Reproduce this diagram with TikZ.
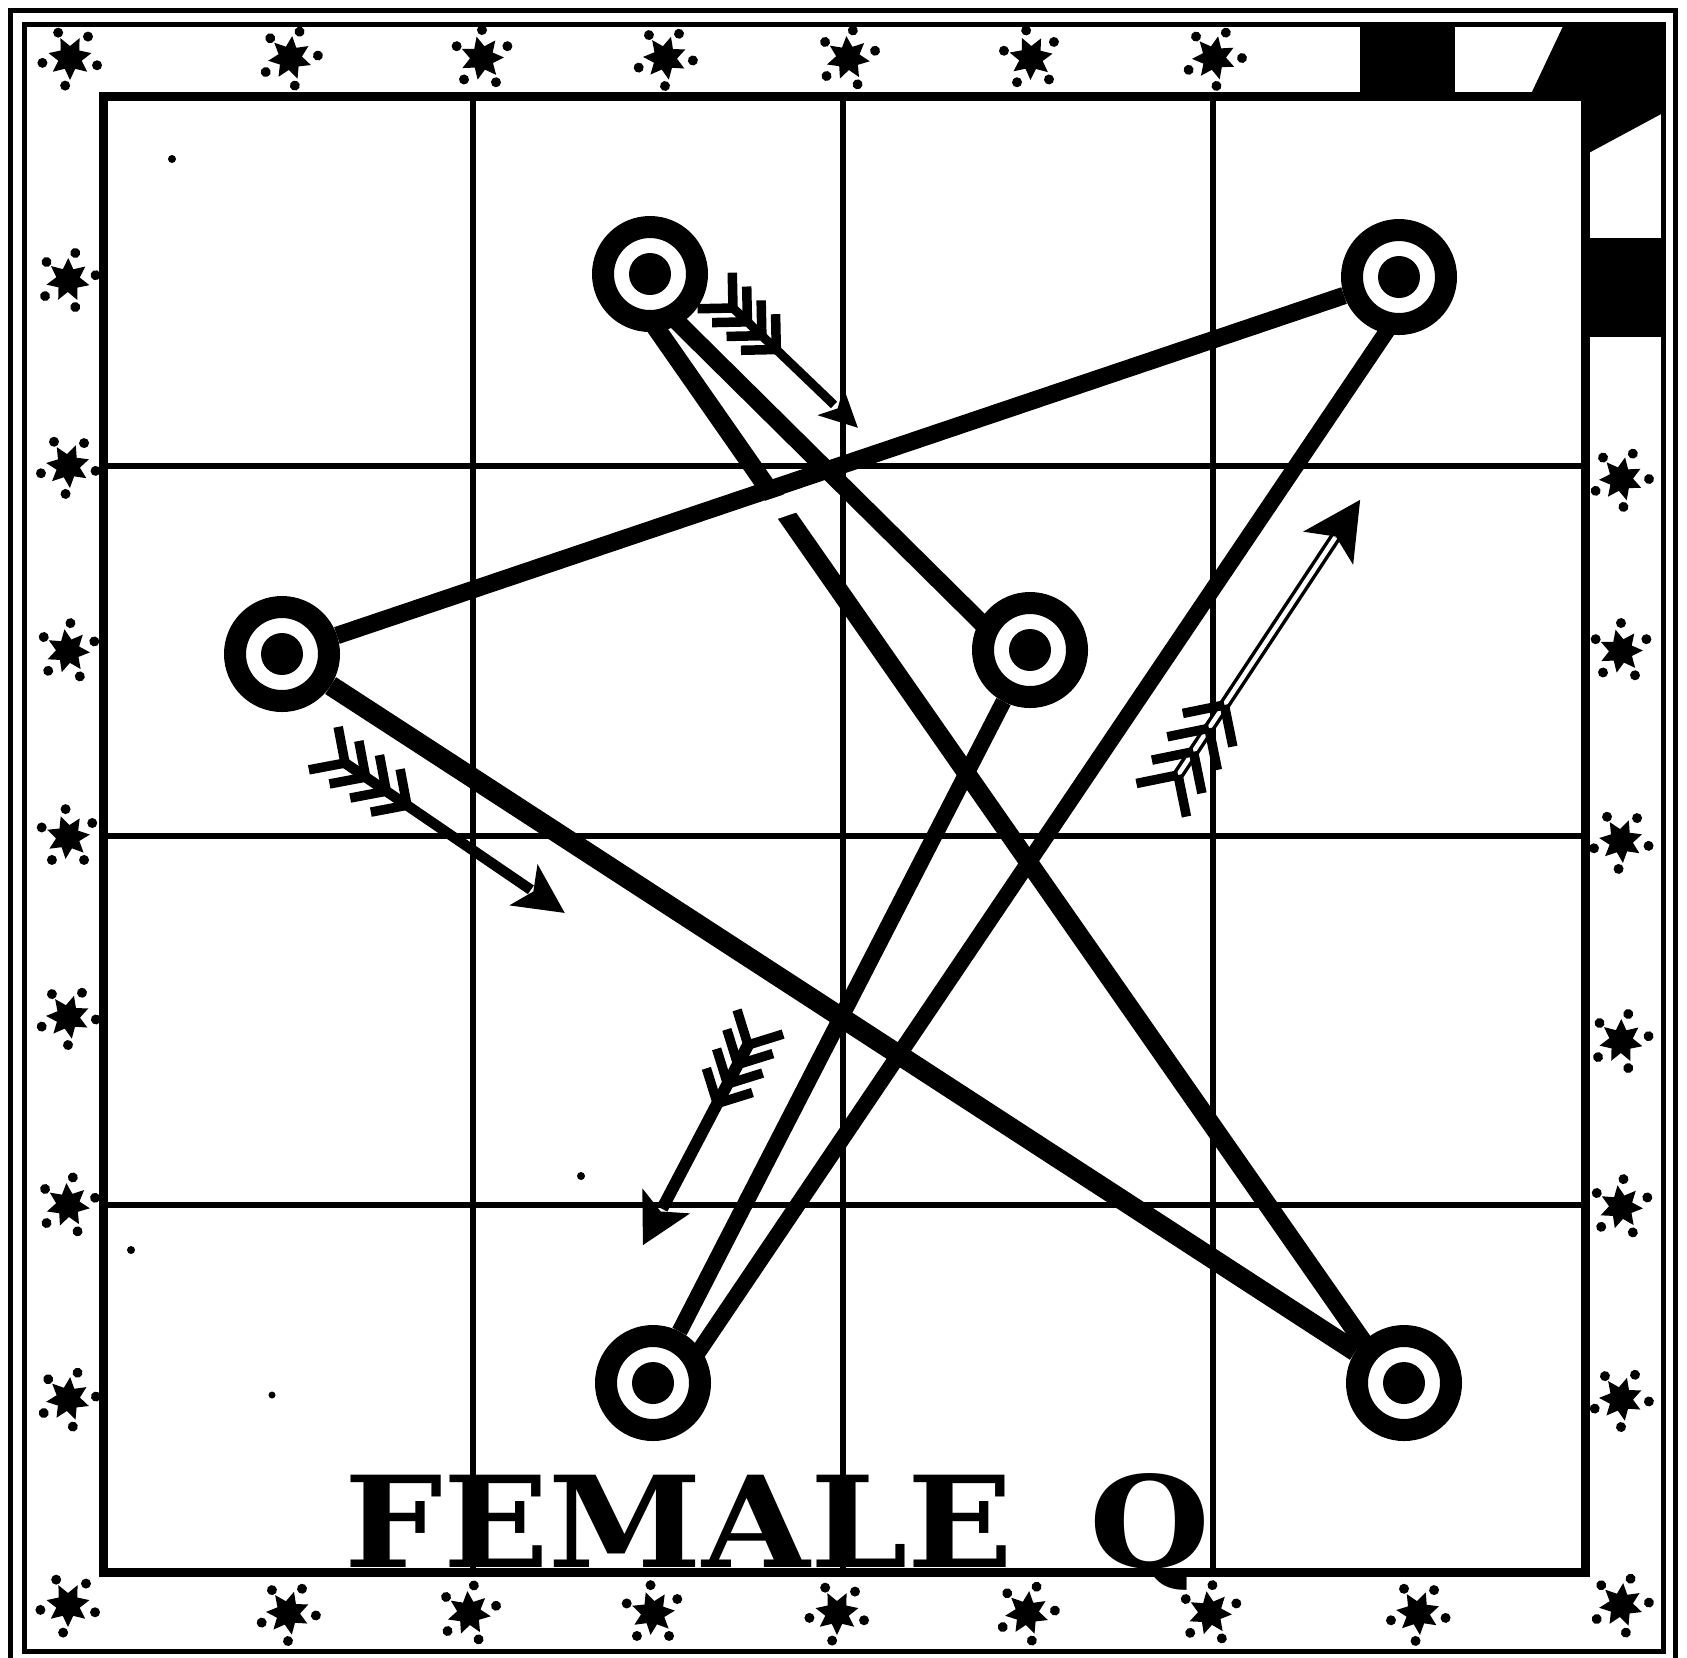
\documentclass[tikz,border=0pt]{standalone}
\usepackage{fontspec}
\usepackage{graphicx}
\newfontfamily\capfont{DejaVu Serif}
\usetikzlibrary{calc}
\pgfdeclarelayer{linelayer}
\pgfsetlayers{linelayer,main}
\tikzset{
  frameline/.style={line width=0.5mm},
  gridborder/.style={line width=0.9mm},
  gridline/.style={line width=0.55mm},
  ringnode/.style={circle, draw, fill=white, line width=2.2mm, minimum size=9.4mm, inner sep=0pt},
  heavy/.style={line width=1.75mm},
  barb/.style={line width=0.95mm},
  shaft/.style={line width=1.05mm},
  hollowshaft/.style={line width=0.35mm, double=white, double distance=0.45mm},
  sparkle/.pic={
    \fill (90:22) \foreach \i in {1,...,7} { -- ({90+\i*51.43-25.71}:12) -- ({90+\i*51.43}:22) } -- cycle;
    \foreach \a in {15,100,170,245,310} \fill (\a:28) circle (5);
  }
}
\begin{document}
\begin{tikzpicture}[x=0.1mm,y=-0.1mm]
\useasboundingbox (0,0) rectangle (1687,1657);
\begin{pgfonlayer}{linelayer}
\fill[white] (0,0) rectangle (1687,1657);
\end{pgfonlayer}

% outer double frame
\draw[frameline] (10,10) rectangle (1675,1668);
\draw[frameline] (24,24) rectangle (1663,1651);

% corner ornament, top right
\fill (1360,22) rectangle (1455,96);
\fill (1530,96) -- (1565,22) -- (1663,22) -- (1663,113) -- (1585,155) -- (1585,96) -- cycle;
\fill (1585,238) rectangle (1663,337);

% grid
\draw[gridborder] (103,96) rectangle (1585,1572);
\foreach \x in {473,843,1213} \draw[gridline] (\x,96) -- (\x,1572);
\foreach \y in {466,836,1205} \draw[gridline] (103,\y) -- (1585,\y);

% stars in the border
\foreach \x/\r in {70/0,290/20,482/40,665/10,848/30,1031/50,1214/15}
  \pic[rotate=\r] at (\x,58) {sparkle};
\foreach \y/\r in {280/25,466/5,651/35,837/45,1017/10,1205/30,1399/20,1605/0}
  \pic[rotate=\r] at (68,\y) {sparkle};
\foreach \y/\r in {479/15,651/40,841/5,1041/25,1207/35,1399/10,1605/20}
  \pic[rotate=\r] at (1621,\y) {sparkle};
\foreach \x/\r in {288/10,469/30,653/45,837/0,1027/20,1210/35,1418/5}
  \pic[rotate=\r] at (\x,1613) {sparkle};

% ring nodes
\node[ringnode] (A) at (650,274) {};
\node[ringnode] (B) at (1399,277) {};
\node[ringnode] (C) at (282,654) {};
\node[ringnode] (D) at (1030,650) {};
\node[ringnode] (E) at (653,1383) {};
\node[ringnode] (F) at (1404,1383) {};
\foreach \n in {A,B,C,D,E,F} \fill (\n) circle (21);

% connecting lines (under the rings)
\begin{pgfonlayer}{linelayer}
  \draw[heavy] ($(A)+(-10,11)$) -- ($(D)+(-10,11)$);
  \draw[heavy, line width=1.85mm] ($(A)+(-3,41)$) -- ($(F)+(-31,-27)$);
  % break in A--F just below the B--C line
  \draw[line width=2.1mm, white] ($(C)!0.4145!(B)+(0,21)$) -- ($(C)!0.4727!(B)+(0,21)$);
  \draw[heavy] (B) -- (C);
  \draw[heavy, line width=1.6mm] ($(B)+(17,11)$) -- ($(E)+(17,11)$);
  \draw[heavy, line width=1.6mm] (D) -- (E);
  \draw[heavy, line width=2.0mm] (C) -- (F);
\end{pgfonlayer}

% feathered arrows
\coordinate (t1) at (733,308);
\coordinate (t2) at (345,763);
\coordinate (t3) at (748,1045);
\coordinate (t4) at (1178,775);

\begin{scope}[shift={(t1)}, rotate=-43.8]
  \draw[shaft, line width=0.9mm] (0,0) -- (140,0);
  \fill (173,0) -- (135,19) -- (145,0) -- (135,-19) -- cycle;
  \foreach \s in {0,20,40,60} \draw[barb] (\s,0) -- ++(-25,25) (\s,0) -- ++(-25,-25);
\end{scope}

\begin{scope}[shift={(t2)}, rotate=-34.3]
  \draw[shaft] (0,0) -- (225,0);
  \fill (266,0) -- (216,25) -- (228,0) -- (216,-25) -- cycle;
  \foreach \s in {0,25,50,75} \draw[barb] (\s,0) -- ++(-26,26) (\s,0) -- ++(-26,-26);
\end{scope}

\begin{scope}[shift={(t3)}, rotate=-117.7]
  \draw[shaft, line width=1.2mm] (0,0) -- (185,0);
  \fill (226,0) -- (176,27) -- (188,0) -- (176,-27) -- cycle;
  \foreach \s in {0,22,44,66} \draw[barb] (\s,0) -- ++(-26,26) (\s,0) -- ++(-26,-26);
\end{scope}

\begin{scope}[shift={(t4)}, rotate=56.5]
  \draw[hollowshaft] (0,0) -- (285,0);
  \fill (330,0) -- (272,30) -- (286,0) -- (272,-30) -- cycle;
  \foreach \s in {0,28,56,84} \draw[barb] (\s,0) -- ++(-30,30) (\s,0) -- ++(-30,-30);
\end{scope}

% specks
\fill (172,159) circle (4);
\fill (131,1250) circle (4);
\fill (581,1176) circle (4);
\fill (272,1395) circle (3.5);

% title
\node[anchor=base west, inner sep=0pt] (title) at (344,1567)
  {\resizebox{86.6mm}{9.4mm}{\capfont\bfseries FEMALE\hspace{0.55em}Q}};
\end{tikzpicture}
\end{document}
